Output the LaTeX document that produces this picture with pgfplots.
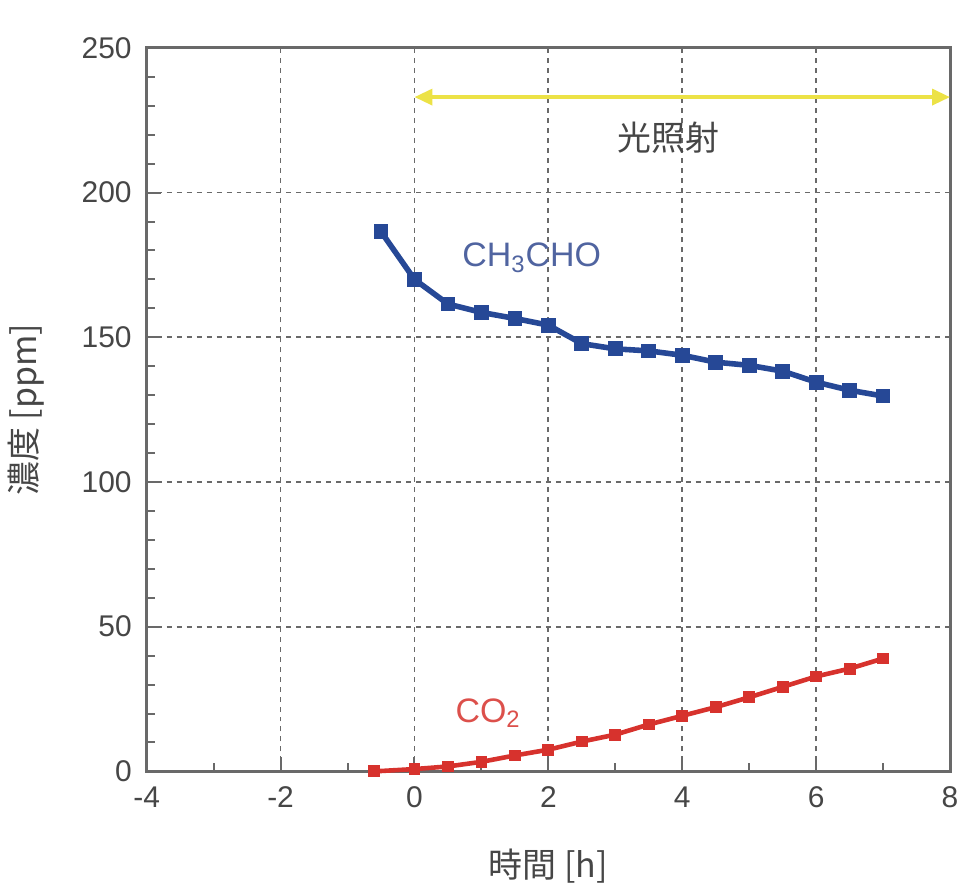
\documentclass[border=0pt]{standalone}
\usepackage{pgfplots}
\pgfplotsset{compat=1.18}
\usepackage{fontspec}
\setmainfont{Liberation Sans}
\newfontfamily\cjk{Noto Sans CJK JP}
\usetikzlibrary{arrows.meta}
\definecolor{blueline}{RGB}{38,72,150}
\definecolor{redline}{RGB}{215,50,45}
\definecolor{yel}{RGB}{236,226,70}
\definecolor{axgray}{RGB}{105,105,105}
\definecolor{txtgray}{RGB}{70,70,70}
\begin{document}
\begin{tikzpicture}
\begin{axis}[
  scale only axis,
  width=402.5pt, height=362.5pt,
  xmin=-4, xmax=8, ymin=0, ymax=250,
  xtick={-4,-2,...,8}, ytick={0,50,...,250},
  minor xtick={-3,-1,...,7},
  minor ytick={10,20,30,40,60,70,80,90,110,120,130,140,160,170,180,190,210,220,230,240},
  tick pos=left, tick align=inside,
  major tick length=7pt, minor tick length=4pt,
  every tick/.style={axgray, line width=1pt},
  axis line style={axgray, line width=1.5pt},
  grid=major,
  major grid style={axgray, line width=0.9pt, dash pattern=on 2.5pt off 2.5pt},
  /pgf/number format/assume math mode=true,
  ticklabel style={font=\fontsize{15}{15}\selectfont, text=txtgray},
  xticklabel style={yshift=-4pt},
  yticklabel style={xshift=-4pt},
  xlabel={\cjk 時間 [h]},
  ylabel={\cjk 濃度 [ppm]},
  xlabel style={font=\fontsize{17}{17}\selectfont, text=txtgray, yshift=-14pt},
  ylabel style={font=\fontsize{17}{17}\selectfont, text=txtgray, yshift=12pt},
  clip=false,
]
\addplot[yel, line width=1.8pt, {Triangle[length=9pt,width=8pt]}-{Triangle[length=9pt,width=8pt]}] coordinates {(0,233) (8,233)};
\addplot[blueline, line width=2.8pt, mark=square*, mark size=2.3pt] coordinates {
(-0.5,186.5) (0,170) (0.5,161.5) (1,158.6) (1.5,156.5) (2,154.2) (2.5,147.8) (3,146) (3.5,145.3) (4,143.8) (4.5,141.4) (5,140.3) (5.5,138.3) (6,134.5) (6.5,131.7) (7,129.7)};
\addplot[redline, line width=2.3pt, mark=square*, mark size=1.8pt] coordinates {
(-0.6,0) (0,0.8) (0.5,1.7) (1,3.3) (1.5,5.5) (2,7.5) (2.5,10.3) (3,12.7) (3.5,16.2) (4,19.2) (4.5,22.2) (5,25.6) (5.5,29.2) (6,32.8) (6.5,35.5) (7,39)};
\node[font=\cjk\fontsize{17}{17}\selectfont, text=txtgray] at (axis cs:3.8,219) {光照射};
\node[font=\fontsize{17}{17}\selectfont, text={rgb,255:red,80;green,100;blue,160}] at (axis cs:1.75,177.5) {CH\textsubscript{3}CHO};
\node[font=\fontsize{17}{17}\selectfont, text={rgb,255:red,220;green,80;blue,75}] at (axis cs:1.1,20) {CO\textsubscript{2}};
\path (rel axis cs:0,0) ++(-73.5pt,-57.5pt) coordinate (bl);
\path (rel axis cs:1,1) ++(6.5pt,24pt) coordinate (tr);
\path (bl) rectangle (tr);
\end{axis}
\end{tikzpicture}
\end{document}
